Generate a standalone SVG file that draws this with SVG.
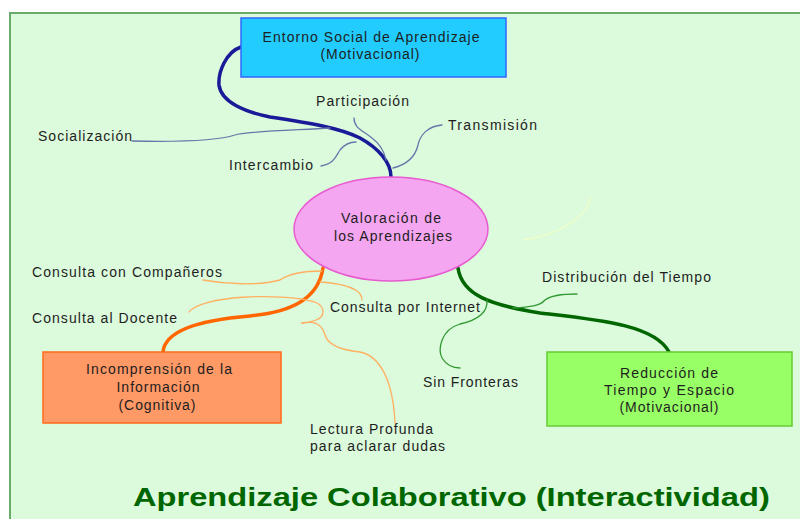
<svg xmlns="http://www.w3.org/2000/svg" width="800" height="519" viewBox="0 0 800 519">
<style>
.t{font-family:"Liberation Sans",Arial,sans-serif;font-size:14px;fill:#1e1e1e;}
.c{text-anchor:middle;}
.title{font-family:"Liberation Sans",Arial,sans-serif;font-size:26px;font-weight:bold;fill:#006600;}
.thick{fill:none;stroke-width:3.5;stroke-linecap:round;}
.thin{fill:none;stroke-width:1.3;stroke-linecap:round;}
.blue{stroke:#1a1a99;}
.blueT{stroke:#6677aa;}
.orange{stroke:#ff6600;}
.orangeT{stroke:#ffb060;}
.green{stroke:#006600;}
.greenT{stroke:#339933;}
</style>
<rect x="0" y="0" width="800" height="519" fill="#ffffff"/>
<rect x="10" y="13" width="800" height="520" fill="#dcfadc" stroke="#6aaa6a" stroke-width="2"/>
<g id="connectors">
<path class="thick blue" d="M 241 47 C 226 52, 218 72, 219 85 C 221 102, 245 112, 270 117 C 310 123, 340 128, 360 138 C 378 148, 391 162, 391 177"/>
<path class="thin blueT" d="M 132 141 C 180 142, 220 140, 235 135 C 245 131, 300 130, 330 128"/>
<path class="thin blueT" d="M 354 118 C 354 128, 362 130, 372 138 C 380 144, 384 150, 386 160"/>
<path class="thin blueT" d="M 321 166 C 334 164, 336 156, 340 150 C 344 145, 350 142, 356 142"/>
<path class="thin blueT" d="M 442 125 C 428 126, 420 135, 418 145 C 415 158, 405 165, 393 168"/>
<path class="thick orange" d="M 323 268 C 318 300, 290 312, 250 316 C 200 320, 165 330, 163 352"/>
<path class="thin orangeT" d="M 203 280 C 225 284, 258 286, 280 280 C 290 273, 305 271, 322 271"/>
<path class="thin orangeT" d="M 189 312 C 200 296, 280 292, 315 302 C 326 307, 325 317, 316 320 C 311 322, 306 323, 302 323"/>
<path class="thin orangeT" d="M 302 323 C 315 320, 322 325, 325 335 C 328 345, 340 350, 360 352 C 380 356, 393 380, 395 423"/>
<path class="thin orangeT" d="M 320 282 C 335 283, 350 286, 357 291 C 361 294, 362 297, 362 300"/>
<path class="thick green" d="M 458 268 C 462 295, 490 305, 540 313 C 600 320, 655 325, 669 352"/>
<path class="thin greenT" d="M 577 294 C 560 294, 550 296, 545 300 C 540 306, 530 307, 513 308"/>
<path class="thin greenT" d="M 487 300 C 488 312, 478 320, 460 324 C 440 330, 438 350, 442 358 C 447 366, 455 368, 460 368"/>
<path fill="none" stroke="#eeffc8" stroke-width="1.3" d="M 590 197 C 590 215, 560 235, 523 240"/>
</g>
<g id="entorno">
<rect x="241" y="18" width="265" height="59" fill="#22ccff" stroke="#3366ff" stroke-width="1.5"/>
<text class="t c" x="371" y="42" textLength="217" lengthAdjust="spacing">Entorno Social de Aprendizaje</text>
<text class="t c" x="370" y="59" textLength="99" lengthAdjust="spacing">(Motivacional)</text>
</g>
<g id="valoracion">
<ellipse cx="391" cy="229" rx="97" ry="52" fill="#f4a6f0" stroke="#e85ad0" stroke-width="1.5"/>
<text class="t c" x="391" y="223" textLength="100" lengthAdjust="spacing">Valoración de</text>
<text class="t c" x="393" y="241" textLength="118" lengthAdjust="spacing">los Aprendizajes</text>
</g>
<g id="incomprension">
<rect x="43" y="352" width="238" height="71" fill="#ff9966" stroke="#ff6a1a" stroke-width="1.5"/>
<text class="t c" x="159" y="374" textLength="146" lengthAdjust="spacing">Incomprensión de la</text>
<text class="t c" x="158" y="392" textLength="83" lengthAdjust="spacing">Información</text>
<text class="t c" x="157" y="410" textLength="77" lengthAdjust="spacing">(Cognitiva)</text>
</g>
<g id="reduccion">
<rect x="547" y="352" width="245" height="74" fill="#99ff66" stroke="#66cc33" stroke-width="1.5"/>
<text class="t c" x="669" y="378" textLength="98" lengthAdjust="spacing">Reducción de</text>
<text class="t c" x="669" y="395" textLength="130" lengthAdjust="spacing">Tiempo y Espacio</text>
<text class="t c" x="669" y="412" textLength="99" lengthAdjust="spacing">(Motivacional)</text>
</g>
<g id="socializacion"><text class="t" x="38" y="141" textLength="94" lengthAdjust="spacing">Socialización</text></g>
<g id="participacion"><text class="t" x="316" y="106" textLength="93" lengthAdjust="spacing">Participación</text></g>
<g id="transmision"><text class="t" x="448" y="130" textLength="89" lengthAdjust="spacing">Transmisión</text></g>
<g id="intercambio"><text class="t" x="229" y="170" textLength="84" lengthAdjust="spacing">Intercambio</text></g>
<g id="companeros"><text class="t" x="32" y="277" textLength="190" lengthAdjust="spacing">Consulta con Compañeros</text></g>
<g id="docente"><text class="t" x="32" y="323" textLength="145" lengthAdjust="spacing">Consulta al Docente</text></g>
<g id="internet"><text class="t" x="330" y="312" textLength="150" lengthAdjust="spacing">Consulta por Internet</text></g>
<g id="distribucion"><text class="t" x="542" y="282" textLength="169" lengthAdjust="spacing">Distribución del Tiempo</text></g>
<g id="fronteras"><text class="t" x="423" y="387" textLength="95" lengthAdjust="spacing">Sin Fronteras</text></g>
<g id="lectura">
<text class="t" x="310" y="434" textLength="123" lengthAdjust="spacing">Lectura Profunda</text>
<text class="t" x="310" y="451" textLength="135" lengthAdjust="spacing">para aclarar dudas</text>
</g>
<g id="titulo"><text class="title" transform="translate(133,506) scale(1.256,1)" x="0" y="0" textLength="507" lengthAdjust="spacing">Aprendizaje Colaborativo (Interactividad)</text></g>
</svg>
